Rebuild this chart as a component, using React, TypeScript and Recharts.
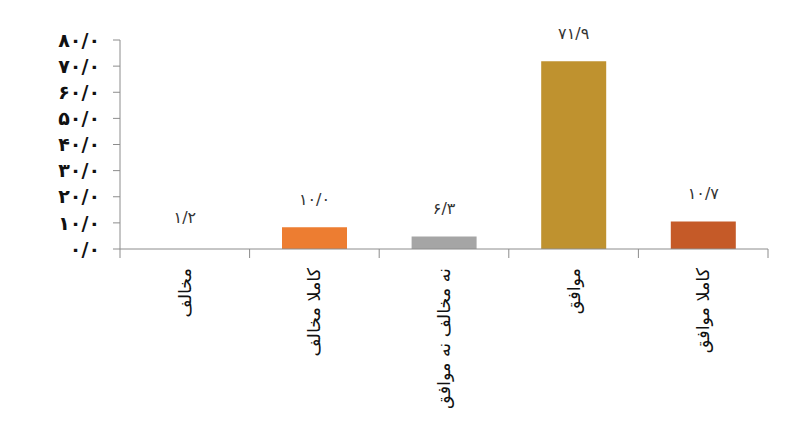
import { BarChart, Bar, XAxis, YAxis, Cell, LabelList } from 'recharts';

const categories = ['مخالف', 'کاملا مخالف', 'نه مخالف نه موافق', 'موافق', 'کاملا موافق'];
const barValues = [1.2, 8.3, 4.8, 71.9, 10.5];
const valueLabels = ['۱/۲', '۱۰/۰', '۶/۳', '۷۱/۹', '۱۰/۷'];
const barColors = ['#ffffff', '#ED7D31', '#A5A5A5', '#BF922F', '#C55A28'];
const yTicks = [0, 10, 20, 30, 40, 50, 60, 70, 80];

const data = categories.map((name, i) => ({
  name,
  value: barValues[i],
  label: valueLabels[i],
}));

const faDigits = '۰۱۲۳۴۵۶۷۸۹';
const toFa = (n: number) =>
  String(n).replace(/[0-9]/g, (d) => faDigits[Number(d)]) + '/۰';

const FONT = '"DejaVu Sans", sans-serif';
const AXIS = '#8c8c8c';

const CategoryTick = (props: any) => {
  const { x, y, payload, index, visibleTicksCount } = props;
  const half = payload?.offset ?? 64.8;
  const last = index === visibleTicksCount - 1;
  return (
    <g>
      <line x1={x - half} y1={y - 8} x2={x - half} y2={y + 1} stroke={AXIS} strokeWidth={1} />
      {last && <line x1={x + half} y1={y - 8} x2={x + half} y2={y + 1} stroke={AXIS} strokeWidth={1} />}
      <text
        x={x}
        y={y + 11}
        transform={`rotate(-90, ${x}, ${y + 11})`}
        textAnchor="end"
        dominantBaseline="central"
        fontFamily={FONT}
        fontSize={17.5}
        fill="#111"
      >
        {payload.value}
      </text>
    </g>
  );
};

const ValueLabel = (props: any) => {
  const { x, y, width, index } = props;
  return (
    <text
      x={x + width / 2}
      y={y - 28}
      textAnchor="middle"
      dominantBaseline="central"
      fontFamily={FONT}
      fontSize={16}
      fill="#333"
    >
      {valueLabels[index]}
    </text>
  );
};

export default function App() {
  return (
    <div style={{ position: 'absolute', left: 0, top: 0, background: '#fff' }}>
      <BarChart
        width={800}
        height={439}
        data={data}
        barCategoryGap="25%"
        margin={{ top: 40, right: 32, left: 0, bottom: 0 }}
      >
        <XAxis
          dataKey="name"
          axisLine={{ stroke: AXIS }}
          tickLine={false}
          tick={<CategoryTick />}
          interval={0}
          height={190}
        />
        <YAxis
          type="number"
          domain={[0, 80]}
          ticks={yTicks}
          interval={0}
          tickFormatter={toFa}
          width={120}
          axisLine={{ stroke: AXIS }}
          tickLine={{ stroke: AXIS }}
          tickSize={7}
          tickMargin={13}
          tick={{ fontFamily: FONT, fontSize: 19, fontWeight: 700, fill: '#111' }}
        />
        <Bar dataKey="value" isAnimationActive={false}>
          {data.map((d, i) => (
            <Cell key={`c-${d.name}`} fill={barColors[i]} />
          ))}
          <LabelList dataKey="label" content={<ValueLabel />} />
        </Bar>
      </BarChart>
    </div>
  );
}
